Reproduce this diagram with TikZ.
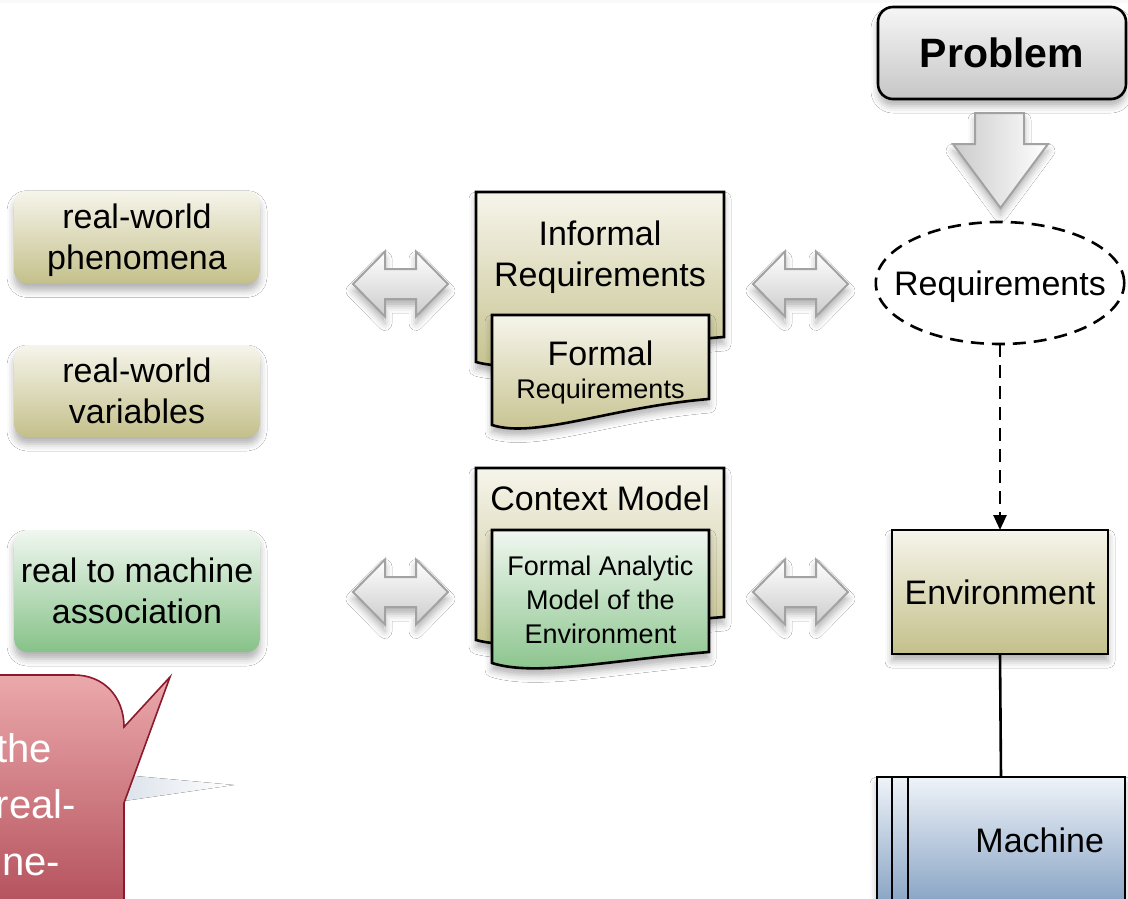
\documentclass[tikz,border=0pt]{standalone}
\usepackage{fontspec}
\setmainfont{Liberation Sans}
\usetikzlibrary{shapes.geometric,shadows.blur,arrows.meta}

\definecolor{olivetop}{HTML}{F6F5EB}
\definecolor{olivebot}{HTML}{C4C08B}
\definecolor{greentop}{HTML}{F0F7F0}
\definecolor{greenbot}{HTML}{86C288}
\definecolor{bluetop}{HTML}{EFF3F9}
\definecolor{bluebot}{HTML}{88A4C4}
\definecolor{greytop}{HTML}{F6F6F6}
\definecolor{greybot}{HTML}{C6C6C6}
\definecolor{arrowline}{HTML}{A2A2A2}
\definecolor{arrowbot}{HTML}{CBCBCB}
\definecolor{callouttop}{HTML}{EBA9AC}
\definecolor{calloutbot}{HTML}{AC4450}
\definecolor{calloutline}{HTML}{8A1A2C}
\definecolor{wedge}{HTML}{DDE3EB}

\tikzset{
  x=1pt, y=1pt,
  every node/.style={inner sep=0pt, outer sep=0pt},
  txtL/.style={font=\fontsize{34}{41}\selectfont, align=center},
  txtS/.style={font=\fontsize{27}{34}\selectfont, align=center},
  soft/.style={blur shadow={shadow xshift=0pt, shadow yshift=-7pt,
      shadow blur radius=7pt, shadow opacity=30}},
  olive/.style={top color=olivetop, bottom color=olivebot},
  greenish/.style={top color=greentop, bottom color=greenbot},
  bluish/.style={top color=bluetop, bottom color=bluebot},
  greyish/.style={top color=greytop, bottom color=greybot},
  outline/.style={draw=black, line width=2.6pt},
  sidebox/.style={soft, rounded corners=13pt, minimum width=246pt,
      text depth=0pt, txtL},
  docpage/.style={outline, soft, line join=miter},
  blockarrow/.style={draw=arrowline, line width=2pt, line join=miter, soft},
  callout/.style={top color=callouttop, bottom color=calloutbot,
      draw=calloutline, line width=1.6pt},
  calltxt/.style={font=\fontsize{40}{57}\selectfont, text=white, anchor=base east},
}

% document page: style, left x, right x, top y, left bottom y, right bottom y (y measured downwards)
\newcommand\docpagepath[6]{%
  \draw[#1] (#2,-#4) -- (#3,-#4) -- (#3,-#6)
    .. controls ({#2+0.55*(#3-#2)},{-(#6+8)}) and ({#2+0.2*(#3-#2)},{-(#5+14)}) ..
    (#2,-#5) -- cycle;}

% horizontal two-headed block arrow centred at (#1,#2), y measured downwards
\newcommand\twoway[2]{%
  \draw[blockarrow, top color=white, bottom color=arrowbot]
    ({#1-47.5},{-#2}) -- ({#1-15.5},{-#2+32.5}) -- ({#1-15.5},{-#2+15})
    -- ({#1+15.5},{-#2+15}) -- ({#1+15.5},{-#2+32.5}) -- ({#1+47.5},{-#2})
    -- ({#1+15.5},{-#2-32.5}) -- ({#1+15.5},{-#2-15}) -- ({#1-15.5},{-#2-15})
    -- ({#1-15.5},{-#2-32.5}) -- cycle;}

\begin{document}
\begin{tikzpicture}
\fill[white] (0,0) rectangle (1128,-899);
\useasboundingbox (0,0) rectangle (1128,-899);
\fill[gray!5] (0,0) rectangle (1128,-3);

% ---- left column: real-world notions
\node[sidebox, olive, minimum height=93pt] (phen) at (137,-237) {real-world\\phenomena};
\node[sidebox, olive, minimum height=92pt] (vars) at (137,-391) {real-world\\variables};
\node[sidebox, greenish, minimum height=122pt] (assoc) at (137,-591) {real to machine\\association};

% ---- speech bubble
\fill[left color=wedge, right color=white] (124,-775) -- (234,-785) -- (124,-801) -- cycle;
\draw[callout] (-60,-675) -- (74,-675) .. controls (104,-675) and (124,-697) .. (124,-727)
  -- (170,-677) -- (124,-803) -- (124,-940) -- (-60,-940) -- cycle;
\node[calltxt] (bub1) at (52,-762) {the};
\node[calltxt] (bub2) at (76,-818) {real-};
\node[calltxt] (bub3) at (60,-875) {ne-};

% ---- block arrows between the columns
\twoway{400.5}{284}
\twoway{800.5}{284}
\twoway{400.5}{592}
\twoway{800.5}{592}

% ---- requirement documents
\docpagepath{docpage, olive}{476}{724}{192}{362}{337}
\docpagepath{docpage, olive}{492}{709}{315}{425}{399}
\node[txtL, text depth=0pt] (informal) at (600,-254) {Informal\\Requirements};
\node[txtL, anchor=base] (formal) at (600.5,-365) {Formal};
\node[txtS, anchor=base] (formalreq) at (600.5,-398) {Requirements};

% ---- context model documents
\docpagepath{docpage, olive}{476}{724}{468}{640}{617}
\docpagepath{docpage, greenish}{492}{709}{530}{663}{652}
\node[txtL, anchor=base] (context) at (600,-510) {Context Model};
\node[txtS, text depth=0pt] (analytic) at (600.5,-600) {Formal Analytic\\Model of the\\Environment};

% ---- right column
\node[outline, greyish, soft, rounded corners=15pt, minimum width=248pt, minimum height=92pt,
  font=\fontsize{41}{48}\selectfont\bfseries, text depth=0pt] (problem) at (1002,-53) {Problem};

\draw[blockarrow, left color=arrowbot, right color=white]
  (975,-113) -- (1024,-113) -- (1024,-144) -- (1048,-144) -- (1000.5,-208)
  -- (953,-144) -- (975,-144) -- cycle;

\node[ellipse, draw=black, line width=2.6pt, dash pattern=on 13pt off 8pt, fill=white,
  inner xsep=-18pt, minimum width=247pt, minimum height=122pt, txtL, text depth=0pt]
  (req) at (1000,-283) {Requirements};

\node[outline, olive, soft, minimum width=216pt, minimum height=124pt, txtL, text depth=0pt]
  (env) at (1000,-592) {Environment};

\node[outline, bluish, soft, text width=206pt, inner xsep=21pt, minimum height=126pt,
  align=right, font=\fontsize{34}{41}\selectfont, text depth=0pt] (machine) at (1001,-840) {Machine};
\draw[outline] ([xshift=15pt]machine.north west) -- ([xshift=15pt]machine.south west);
\draw[outline] ([xshift=31pt]machine.north west) -- ([xshift=31pt]machine.south west);

% ---- connectors
\draw[outline, dash pattern=on 13pt off 8pt, -{Triangle[length=15pt,width=13pt]}] (req.south) -- (env.north);
\draw[outline] (env.south) -- (machine.north);
\end{tikzpicture}
\end{document}
